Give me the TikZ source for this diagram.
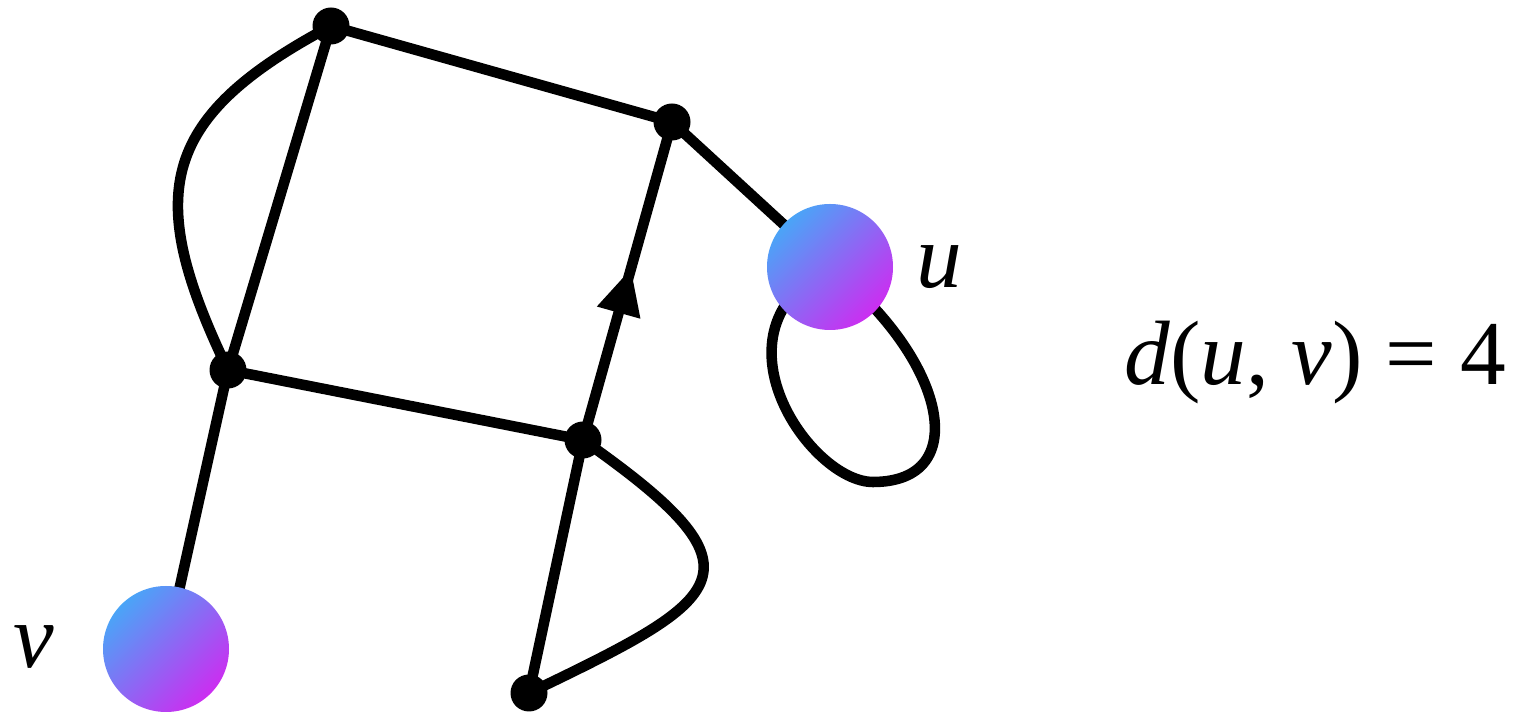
\documentclass[tikz,border=0pt]{standalone}
\usepackage{fontspec}
\setmainfont{Liberation Serif}
\usepackage{tikz}
\usetikzlibrary{arrows.meta, decorations.markings, backgrounds}
\definecolor{azulVertice}{RGB}{64,174,248}
\definecolor{magentaVertice}{RGB}{214,36,240}
\pgfdeclareverticalshading{verticeGrad}{100bp}{color(0bp)=(magentaVertice); color(21bp)=(magentaVertice); color(79bp)=(azulVertice); color(100bp)=(azulVertice)}

\begin{document}
\begin{tikzpicture}[
    dot/.style={circle, fill=black, inner sep=0pt, minimum size=0.37cm},
    marked/.style={circle, inner sep=0pt, minimum size=1.26cm, shading=verticeGrad, shading angle=45},
    edge/.style={line width=3pt},
    midarrow/.style={postaction={decorate}, decoration={markings, mark=at position 0.54 with {\arrow{Triangle[length=0.46cm, width=0.42cm]}}}},
    label/.style={font=\fontsize{26}{30}\selectfont\itshape}
]
    \useasboundingbox (0,0) rectangle (15.29,7.13);

    \node[dot] (a) at (3.31, 6.87) {};
    \node[dot] (b) at (6.72, 5.91) {};
    \node[dot] (c) at (2.28, 3.43) {};
    \node[dot] (d) at (5.83, 2.73) {};
    \node[dot] (e) at (5.29, 0.20) {};
    \node[marked] (u) at (8.30, 4.46) {};
    \node[marked] (v) at (1.66, 0.64) {};

    \node[label, anchor=base] (lu) at (9.39, 4.25) {u};
    \node[label, anchor=base] (lv) at (0.34, 0.45) {v};
    \node[font=\fontsize{26}{30}\selectfont, anchor=base] (dist) at (13.15, 3.28) {\textit{d}(\textit{u}, \textit{v}) = 4};

    \begin{scope}[on background layer]
    \draw[edge] (a.center) -- (b.center);
    \draw[edge] (a.center) -- (c.center);
    \draw[edge] (a.center) .. controls (1.56, 5.94) and (1.45, 5.16) .. (c.center);
    \draw[edge] (c.center) -- (d.center);
    \draw[edge, midarrow] (d.center) -- (b.center);
    \draw[edge] (b.center) -- (u.center);
    \draw[edge] (c.center) -- (v.center);
    \draw[edge] (d.center) -- (e.center);
    \draw[edge] (d.center) .. controls (7.71, 1.41) and (7.29, 1.16) .. (e.center);
    \draw[edge] (u.center) .. controls (7.05, 3.83) and (8.10, 2.31) .. (8.73, 2.31)
        .. controls (9.73, 2.31) and (9.47, 3.53) .. (u.center);
    \end{scope}
\end{tikzpicture}
\end{document}
